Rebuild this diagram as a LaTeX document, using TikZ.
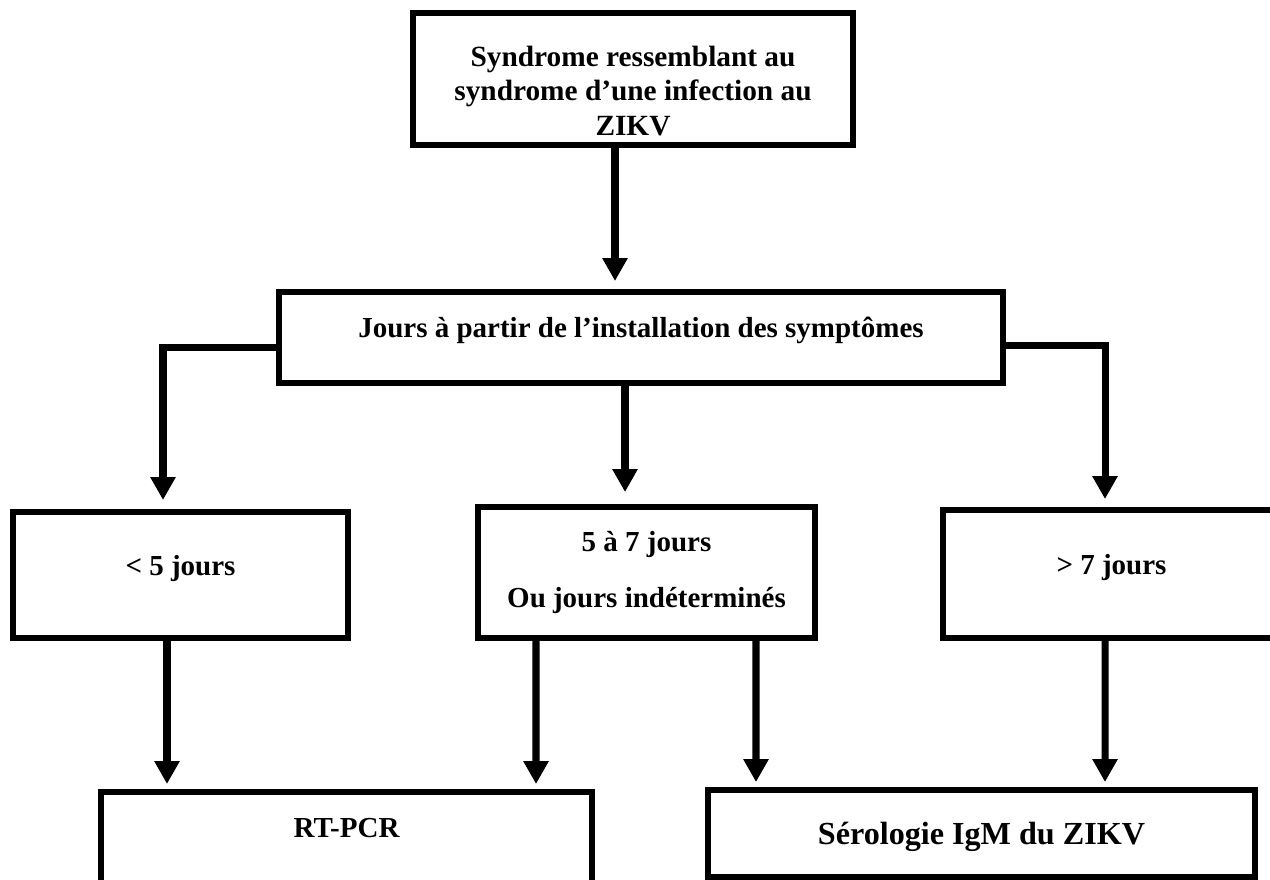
\documentclass[tikz,border=0pt]{standalone}
\usepackage{fontspec}
\setmainfont{Liberation Serif}
\usetikzlibrary{arrows.meta,calc}

\begin{document}
\begin{tikzpicture}[
  x=0.02cm, y=-0.02cm,
  box/.style={draw, line width=3.4pt, align=center, inner sep=0pt, font=\bfseries\fontsize{16.5}{19}\selectfont},
  even/.style={text height=0.4cm, text depth=0.4cm},
  arr/.style={-{Triangle[width=0.48cm, length=0.46cm]}, line width=4pt}
]
\useasboundingbox (0,0) rectangle (1270,879);
\clip (0,0) rectangle (1270,879);
% boxes
\node[box, minimum width=8.8cm, minimum height=2.64cm, font=\bfseries\fontsize{16.7}{19.5}\selectfont] (zikv) at (633,79) {\rule{0pt}{25pt}Syndrome ressemblant au\\syndrome d’une infection au\\ZIKV};
\node[box, even, minimum width=14.48cm, minimum height=1.82cm] (jours) at (641,337.5) {Jours à partir de l’installation des symptômes};
\node[box, even, minimum width=6.7cm, minimum height=2.52cm] (moins) at (180.5,575) {< 5 jours};
\node[box, minimum width=6.74cm, minimum height=2.62cm] (entre) at (646.5,572.5) {5 à 7 jours\\[0.47cm]Ou jours indéterminés};
\node[box, even, minimum width=6.74cm, minimum height=2.56cm] (plus) at (1111.5,574) {> 7 jours};
\node[box, text height=0.38cm, text depth=0.96cm, minimum width=9.82cm, minimum height=2.4cm] (pcr) at (346.5,852) {RT-PCR};
\node[box, text height=0.6cm, minimum width=10.94cm, minimum height=1.74cm, font=\bfseries\fontsize{18.3}{21}\selectfont] (sero) at (981.5,833.5) {Sérologie IgM du ZIKV};
% connectors
\draw[arr] ($(zikv.south)+(-18,0)$) -- ($(jours.north)+(-26,-8)$);
\draw[arr] ($(jours.west)+(0,10)$) -| ($(moins.north)+(-17.5,-9)$);
\draw[arr] ($(jours.south)+(-16,0)$) -- ($(entre.north)+(-21.5,-12)$);
\draw[arr] ($(jours.east)+(0,8)$) -| ($(plus.north)+(-6.5,-8)$);
\draw[arr] ($(moins.south)+(-13.5,0)$) -- ($(pcr.north)+(-179.5,-5)$);
\draw[arr] ($(entre.south)+(-110.5,0)$) -- ($(pcr.north)+(189.5,-5)$);
\draw[arr] ($(entre.south)+(109.5,0)$) -- ($(sero.north)+(-225.5,-5)$);
\draw[arr] ($(plus.south)+(-6.5,0)$) -- ($(sero.north)+(123.5,-5)$);
\end{tikzpicture}
\end{document}
